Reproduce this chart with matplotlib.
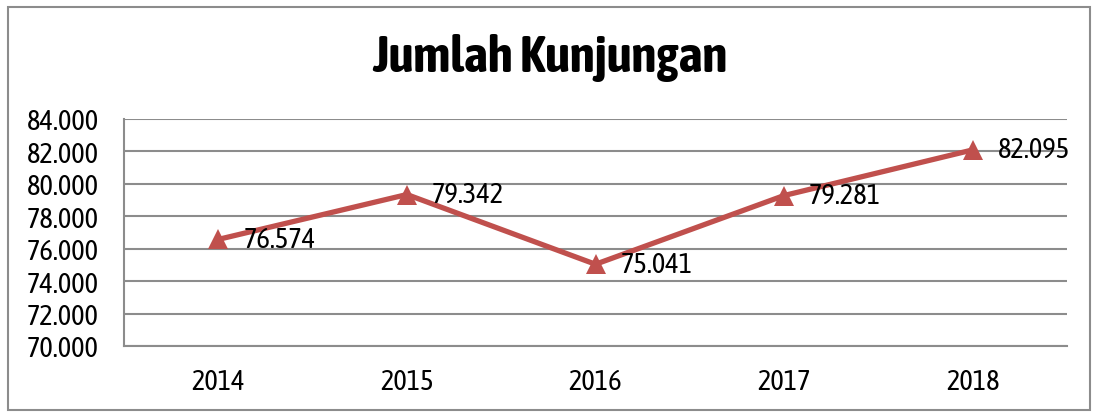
import matplotlib
matplotlib.use("Agg")
import matplotlib.pyplot as plt
from matplotlib.patches import Rectangle
from matplotlib.ticker import FuncFormatter, MultipleLocator
from matplotlib import font_manager

years = ["2014", "2015", "2016", "2017", "2018"]
visits = [76574, 79342, 75041, 79281, 82095]
title = "Jumlah Kunjungan"

names = {f.name for f in font_manager.fontManager.ttflist}

def pick(cands):
    for c in cands:
        if c in names:
            return c
    return "DejaVu Sans"

fam = pick(["Liberation Sans Narrow", "Arial Narrow", "Asap Condensed", "Archivo Narrow"])
tfam = pick(["Liberation Sans Narrow", "Arial Narrow", "Asap Condensed", "Barlow Semi Condensed"])
plt.rcParams["font.family"] = [fam, "DejaVu Sans"]

W, H = 1096, 414
fig = plt.figure(figsize=(W / 100, H / 100), dpi=100)
fig.patches.append(Rectangle((8 / W, 1 - 411 / H), (1090 - 8) / W, (411 - 8) / H,
                             transform=fig.transFigure, fill=False,
                             edgecolor="#8c8c8c", linewidth=1.5))

left, right, top, bottom = 124, 1067, 120, 347
ax = fig.add_axes([left / W, 1 - bottom / H, (right - left) / W, (bottom - top) / H])

def fmt(v, pos=None):
    return f"{int(round(v)):,}".replace(",", ".")

x = list(range(len(years)))
ax.plot(x, visits, color="#C0504D", linewidth=3.8, marker="^", markersize=15,
        markeredgewidth=0, zorder=3)
for xi, v in zip(x, visits):
    ax.annotate(fmt(v), (xi, v), xytext=(18, 0), textcoords="offset points",
                ha="left", va="center", fontsize=20.5, color="black", zorder=4)

ax.set_xlim(-0.5, len(years) - 0.5)
ax.set_ylim(70000, 84000)
ax.yaxis.set_major_locator(MultipleLocator(2000))
ax.yaxis.set_major_formatter(FuncFormatter(fmt))
ax.set_xticks(x)
ax.set_xticklabels(years)
ax.tick_params(axis="both", length=0, labelsize=20.5, colors="black")
ax.tick_params(axis="y", pad=18)
ax.tick_params(axis="x", pad=16)
ax.grid(axis="y", color="#8c8c8c", linewidth=1.5)
ax.set_axisbelow(True)
for s in ["top", "right"]:
    ax.spines[s].set_visible(False)
for s in ["left", "bottom"]:
    ax.spines[s].set_color("#8c8c8c")
    ax.spines[s].set_linewidth(1.5)

fig.text(550 / W, 1 - 58 / H, title, ha="center", va="center",
         fontsize=37, fontweight="bold", family=[tfam, "DejaVu Sans"], color="black")

fig.savefig("out.png", dpi=100)
